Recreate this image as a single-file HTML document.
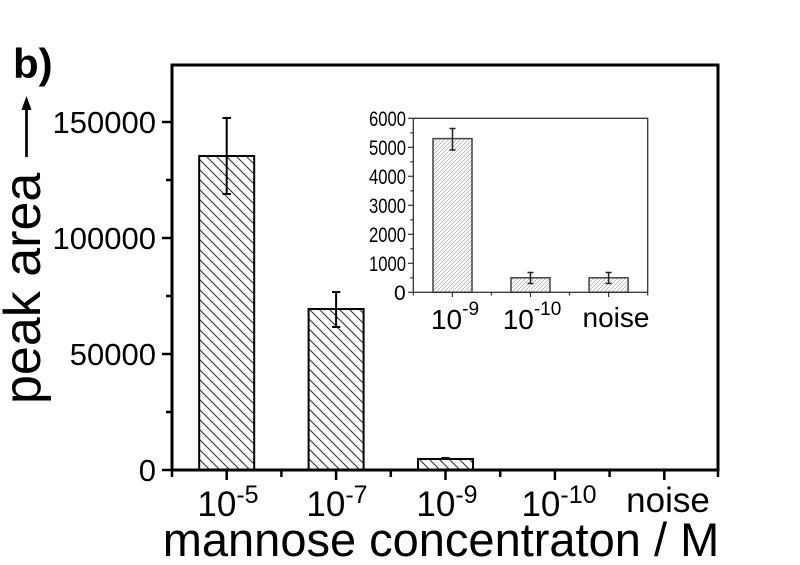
<!DOCTYPE html>
<html>
<head>
<meta charset="utf-8">
<style>
  html, body { margin: 0; padding: 0; background: #fff; }
  svg { display: block; }
  text { font-family: "Liberation Sans", Arial, sans-serif; fill: #000; }
</style>
</head>
<body>
<svg width="800" height="565" viewBox="0 0 800 565" xmlns="http://www.w3.org/2000/svg">
  <defs>
    <pattern id="hm" patternUnits="userSpaceOnUse" width="10" height="10">
      <path d="M-2,-2 L12,12 M-2,8 L2,12 M8,-2 L12,2" stroke="#333" stroke-width="1.1" fill="none"/>
    </pattern>
    <pattern id="hi" patternUnits="userSpaceOnUse" width="4" height="4">
      <path d="M-1,5 L5,-1 M-1,1 L1,-1 M3,5 L5,3" stroke="#aaa" stroke-width="0.7" fill="none"/>
    </pattern>
  </defs>

  <!-- b) label -->
  <text x="13" y="78" font-size="42" font-weight="bold">b)</text>

  <!-- Y axis title -->
  <text transform="translate(40,404) rotate(-90)" font-size="52">peak area</text>
  <line x1="26.5" y1="157" x2="26.5" y2="106" stroke="#000" stroke-width="2.7"/>
  <polygon points="26.5,96 21.5,110 31.5,110" fill="#000"/>

  <!-- Main bars -->
  <rect x="199.2" y="156" width="55" height="314" fill="#fff"/>
  <rect x="199.2" y="156" width="55" height="314" fill="url(#hm)" stroke="#000" stroke-width="2"/>
  <rect x="308.6" y="309" width="55" height="161" fill="#fff"/>
  <rect x="308.6" y="309" width="55" height="161" fill="url(#hm)" stroke="#000" stroke-width="2"/>
  <rect x="418" y="459" width="55" height="11" fill="#fff"/>
  <rect x="418" y="459" width="55" height="11" fill="url(#hm)" stroke="#000" stroke-width="2"/>

  <!-- Main error bars -->
  <g stroke="#000" stroke-width="2">
    <line x1="226.7" y1="118" x2="226.7" y2="194"/>
    <line x1="222.5" y1="118" x2="231" y2="118"/>
    <line x1="222.5" y1="194" x2="231" y2="194"/>
    <line x1="336.1" y1="292" x2="336.1" y2="327"/>
    <line x1="332" y1="292" x2="340.3" y2="292"/>
    <line x1="332" y1="327" x2="340.3" y2="327"/>
    <line x1="441.5" y1="458" x2="449.5" y2="458"/>
  </g>

  <!-- Main frame -->
  <rect x="172" y="65" width="546" height="405" fill="none" stroke="#000" stroke-width="3"/>

  <!-- Main y ticks -->
  <g stroke="#000" stroke-width="2.5">
    <line x1="162" y1="470" x2="172" y2="470"/>
    <line x1="162" y1="354" x2="172" y2="354"/>
    <line x1="162" y1="238" x2="172" y2="238"/>
    <line x1="162" y1="122" x2="172" y2="122"/>
    <line x1="166" y1="412" x2="172" y2="412"/>
    <line x1="166" y1="296" x2="172" y2="296"/>
    <line x1="166" y1="180" x2="172" y2="180"/>
  </g>
  <g font-size="31" text-anchor="end">
    <text x="156" y="481">0</text>
    <text x="156" y="365">50000</text>
    <text x="156" y="249">100000</text>
    <text x="156" y="133">150000</text>
  </g>

  <!-- Main x ticks -->
  <g stroke="#000" stroke-width="2.5">
    <line x1="226.7" y1="470" x2="226.7" y2="480"/>
    <line x1="336.1" y1="470" x2="336.1" y2="480"/>
    <line x1="445.5" y1="470" x2="445.5" y2="480"/>
    <line x1="554.9" y1="470" x2="554.9" y2="480"/>
    <line x1="664.3" y1="470" x2="664.3" y2="480"/>
    <line x1="172" y1="470" x2="172" y2="477"/>
    <line x1="281.4" y1="470" x2="281.4" y2="477"/>
    <line x1="390.8" y1="470" x2="390.8" y2="477"/>
    <line x1="500.2" y1="470" x2="500.2" y2="477"/>
    <line x1="609.6" y1="470" x2="609.6" y2="477"/>
    <line x1="718" y1="470" x2="718" y2="477"/>
  </g>
  <g font-size="35" text-anchor="middle">
    <text x="228" y="516">10<tspan dy="-13" font-size="25">-5</tspan></text>
    <text x="337" y="516">10<tspan dy="-13" font-size="25">-7</tspan></text>
    <text x="447" y="516">10<tspan dy="-13" font-size="25">-9</tspan></text>
    <text x="559" y="516">10<tspan dy="-13" font-size="25">-10</tspan></text>
    <text x="668" y="512">noise</text>
  </g>

  <!-- X axis title -->
  <text x="441" y="556" font-size="47" text-anchor="middle">mannose concentraton / M</text>

  <!-- Inset -->
  <rect x="413.3" y="118.3" width="234.4" height="174" fill="#fff"/>
  <rect x="433" y="138.6" width="39" height="153.7" fill="url(#hi)" stroke="#444" stroke-width="1.5"/>
  <rect x="511" y="277.8" width="39" height="14.5" fill="url(#hi)" stroke="#444" stroke-width="1.5"/>
  <rect x="589.1" y="277.8" width="39" height="14.5" fill="url(#hi)" stroke="#444" stroke-width="1.5"/>

  <g stroke="#222" stroke-width="1.5">
    <line x1="452.5" y1="128.5" x2="452.5" y2="150"/>
    <line x1="449.5" y1="128.5" x2="455.5" y2="128.5"/>
    <line x1="449.5" y1="150" x2="455.5" y2="150"/>
    <line x1="530.5" y1="272.5" x2="530.5" y2="283.5"/>
    <line x1="527.5" y1="272.5" x2="533.5" y2="272.5"/>
    <line x1="527.5" y1="283.5" x2="533.5" y2="283.5"/>
    <line x1="608.6" y1="272.5" x2="608.6" y2="283.5"/>
    <line x1="605.6" y1="272.5" x2="611.6" y2="272.5"/>
    <line x1="605.6" y1="283.5" x2="611.6" y2="283.5"/>
  </g>

  <rect x="413.3" y="118.3" width="234.4" height="174" fill="none" stroke="#333" stroke-width="1.3"/>

  <!-- Inset y ticks -->
  <g stroke="#333" stroke-width="1.2">
    <line x1="408" y1="292.3" x2="413.3" y2="292.3"/>
    <line x1="408" y1="263.3" x2="413.3" y2="263.3"/>
    <line x1="408" y1="234.3" x2="413.3" y2="234.3"/>
    <line x1="408" y1="205.3" x2="413.3" y2="205.3"/>
    <line x1="408" y1="176.3" x2="413.3" y2="176.3"/>
    <line x1="408" y1="147.3" x2="413.3" y2="147.3"/>
    <line x1="408" y1="118.3" x2="413.3" y2="118.3"/>
    <line x1="410.3" y1="277.8" x2="413.3" y2="277.8"/>
    <line x1="410.3" y1="248.8" x2="413.3" y2="248.8"/>
    <line x1="410.3" y1="219.8" x2="413.3" y2="219.8"/>
    <line x1="410.3" y1="190.8" x2="413.3" y2="190.8"/>
    <line x1="410.3" y1="161.8" x2="413.3" y2="161.8"/>
    <line x1="410.3" y1="132.8" x2="413.3" y2="132.8"/>
  </g>
  <g font-size="21">
    <text x="394" y="300">0</text>
    <text x="369" y="271" textLength="37" lengthAdjust="spacingAndGlyphs">1000</text>
    <text x="369" y="242" textLength="37" lengthAdjust="spacingAndGlyphs">2000</text>
    <text x="369" y="213" textLength="37" lengthAdjust="spacingAndGlyphs">3000</text>
    <text x="369" y="184" textLength="37" lengthAdjust="spacingAndGlyphs">4000</text>
    <text x="369" y="155" textLength="37" lengthAdjust="spacingAndGlyphs">5000</text>
    <text x="369" y="126" textLength="37" lengthAdjust="spacingAndGlyphs">6000</text>
  </g>

  <!-- Inset x ticks -->
  <g stroke="#333" stroke-width="1.2">
    <line x1="452.4" y1="292.3" x2="452.4" y2="297"/>
    <line x1="530.5" y1="292.3" x2="530.5" y2="297"/>
    <line x1="608.6" y1="292.3" x2="608.6" y2="297"/>
    <line x1="413.3" y1="292.3" x2="413.3" y2="295.5"/>
    <line x1="491.4" y1="292.3" x2="491.4" y2="295.5"/>
    <line x1="569.5" y1="292.3" x2="569.5" y2="295.5"/>
    <line x1="647.7" y1="292.3" x2="647.7" y2="295.5"/>
  </g>
  <g font-size="28" text-anchor="middle">
    <text x="455" y="329">10<tspan dy="-14" font-size="19">-9</tspan></text>
    <text x="532" y="329">10<tspan dy="-14" font-size="19">-10</tspan></text>
    <text x="616" y="327">noise</text>
  </g>
</svg>
</body>
</html>
